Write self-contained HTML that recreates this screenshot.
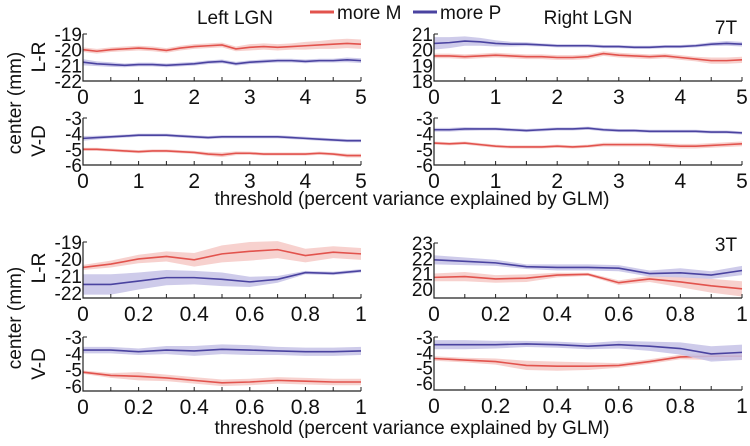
<!DOCTYPE html>
<html><head><meta charset="utf-8"><style>
html,body{margin:0;padding:0;background:#fff}
svg{display:block;font-family:"Liberation Sans",Arial,sans-serif}
</style></head><body>
<svg id="chart" width="750" height="446" viewBox="0 0 750 446" xmlns="http://www.w3.org/2000/svg"></svg>
<script>
// 7T x samples (0..5 step 0.25), 3T x samples (0..1 step 0.1)
const x7 = [0,0.25,0.5,0.75,1,1.25,1.5,1.75,2,2.25,2.5,2.75,3,3.25,3.5,3.75,4,4.25,4.5,4.75,5];
const x3 = [0,0.1,0.2,0.3,0.4,0.5,0.6,0.7,0.8,0.9,1];
// 7T Left L-R
const t7LlrM = [-20,-20.1,-20.0,-19.95,-19.9,-19.95,-20.05,-19.9,-19.8,-19.75,-19.7,-19.95,-19.85,-19.8,-19.85,-19.8,-19.75,-19.7,-19.65,-19.6,-19.65];
const t7LlrMerr = [0.15,0.15,0.15,0.15,0.15,0.15,0.15,0.15,0.15,0.15,0.15,0.15,0.2,0.2,0.2,0.2,0.25,0.25,0.3,0.3,0.3];
const t7LlrP = [-20.8,-20.9,-20.95,-21.0,-20.95,-20.95,-21.0,-20.95,-20.9,-20.8,-20.75,-20.9,-20.8,-20.75,-20.7,-20.7,-20.75,-20.7,-20.7,-20.65,-20.7];
const t7LlrPerr = [0.2,0.15,0.15,0.12,0.12,0.12,0.12,0.12,0.12,0.12,0.12,0.12,0.12,0.12,0.12,0.12,0.12,0.12,0.12,0.15,0.15];
// 7T Left V-D
const t7LvdM = [-5.0,-5.0,-5.05,-5.1,-5.15,-5.1,-5.1,-5.15,-5.2,-5.3,-5.35,-5.25,-5.25,-5.3,-5.3,-5.3,-5.3,-5.25,-5.3,-5.4,-5.4];
const t7LvdMerr = [0.1,0.1,0.1,0.1,0.1,0.1,0.1,0.1,0.1,0.12,0.15,0.12,0.1,0.1,0.1,0.1,0.1,0.1,0.1,0.12,0.12];
const t7LvdP = [-4.3,-4.25,-4.2,-4.15,-4.1,-4.1,-4.1,-4.15,-4.2,-4.25,-4.2,-4.2,-4.2,-4.2,-4.2,-4.25,-4.3,-4.35,-4.4,-4.45,-4.45];
const t7LvdPerr = [0.15,0.12,0.1,0.1,0.1,0.1,0.1,0.1,0.1,0.1,0.1,0.1,0.1,0.1,0.1,0.1,0.1,0.1,0.1,0.1,0.1];
// 7T Right L-R
const t7RlrM = [19.6,19.6,19.55,19.6,19.65,19.6,19.55,19.55,19.5,19.5,19.55,19.75,19.65,19.6,19.55,19.6,19.5,19.4,19.3,19.3,19.35];
const t7RlrMerr = [0.15,0.15,0.15,0.15,0.15,0.15,0.15,0.15,0.15,0.15,0.15,0.15,0.15,0.15,0.15,0.15,0.15,0.15,0.2,0.2,0.2];
const t7RlrP = [20.4,20.45,20.55,20.5,20.4,20.35,20.35,20.3,20.25,20.25,20.25,20.2,20.2,20.15,20.15,20.2,20.2,20.25,20.35,20.4,20.35];
const t7RlrPerr = [0.4,0.35,0.3,0.25,0.2,0.15,0.12,0.1,0.1,0.1,0.1,0.1,0.1,0.1,0.1,0.1,0.1,0.1,0.12,0.15,0.15];
// 7T Right V-D
const t7RvdM = [-4.6,-4.65,-4.6,-4.7,-4.8,-4.85,-4.85,-4.85,-4.8,-4.85,-4.8,-4.7,-4.7,-4.7,-4.7,-4.75,-4.8,-4.8,-4.75,-4.7,-4.65];
const t7RvdMerr = [0.1,0.1,0.1,0.1,0.1,0.1,0.1,0.1,0.1,0.1,0.1,0.12,0.12,0.12,0.12,0.15,0.15,0.15,0.15,0.15,0.15];
const t7RvdP = [-3.75,-3.75,-3.7,-3.7,-3.7,-3.75,-3.8,-3.75,-3.7,-3.7,-3.65,-3.75,-3.8,-3.8,-3.85,-3.85,-3.85,-3.85,-3.9,-3.9,-3.95];
const t7RvdPerr = [0.12,0.12,0.12,0.1,0.1,0.1,0.1,0.1,0.1,0.1,0.1,0.1,0.1,0.1,0.1,0.1,0.1,0.1,0.1,0.1,0.1];
// 3T Left L-R
const t3LlrM = [-20.5,-20.3,-20.0,-19.85,-20.05,-19.7,-19.55,-19.45,-19.8,-19.6,-19.7];
const t3LlrMerr = [0.15,0.2,0.25,0.3,0.4,0.5,0.55,0.5,0.4,0.35,0.35];
const t3LlrP = [-21.5,-21.5,-21.3,-21.1,-21.1,-21.2,-21.35,-21.2,-20.8,-20.85,-20.7];
const t3LlrPerr = [0.6,0.6,0.5,0.45,0.4,0.4,0.3,0.2,0.1,0.1,0.1];
// 3T Left V-D
const t3LvdM = [-5.15,-5.35,-5.4,-5.5,-5.65,-5.8,-5.75,-5.65,-5.7,-5.75,-5.75];
const t3LvdMerr = [0.1,0.15,0.25,0.2,0.2,0.2,0.2,0.2,0.2,0.2,0.2];
const t3LvdP = [-3.8,-3.8,-3.9,-3.8,-3.85,-3.75,-3.8,-3.85,-3.9,-3.9,-3.85];
const t3LvdPerr = [0.2,0.2,0.2,0.25,0.3,0.3,0.3,0.25,0.25,0.25,0.25];
// 3T Right L-R
const t3RlrM = [20.75,20.8,20.65,20.7,20.9,20.95,20.4,20.65,20.45,20.2,20.0];
const t3RlrMerr = [0.25,0.3,0.25,0.25,0.15,0.1,0.15,0.2,0.35,0.45,0.5];
const t3RlrP = [21.9,21.8,21.7,21.45,21.4,21.4,21.35,21.0,21.05,20.9,21.2];
const t3RlrPerr = [0.3,0.25,0.2,0.15,0.2,0.2,0.2,0.2,0.3,0.25,0.3];
// 3T Right V-D
const t3RvdM = [-4.4,-4.5,-4.6,-4.85,-4.9,-4.9,-4.85,-4.6,-4.3,-4.25,-4.25];
const t3RvdMerr = [0.15,0.15,0.2,0.3,0.3,0.25,0.15,0.15,0.15,0.25,0.25];
const t3RvdP = [-3.5,-3.5,-3.5,-3.45,-3.5,-3.6,-3.5,-3.6,-3.75,-4.1,-4.0];
const t3RvdPerr = [0.3,0.3,0.25,0.2,0.2,0.2,0.25,0.3,0.4,0.5,0.5];
// tick labels
const ticks7 = [0,1,2,3,4,5];
const ticks3 = [0,0.2,0.4,0.6,0.8,1];
const ticksLR7L = [-19,-20,-21,-22];
const ticksLR7R = [21,20,19,18];
const ticksVD = [-3,-4,-5,-6];
const ticksLR3L = [-19,-20,-21,-22];
const ticksLR3R = [23,22,21,20];

const NS = "http://www.w3.org/2000/svg";
const svg = document.getElementById('chart');
const RED = "#e2534d", REDB = "#f6c9c5", BLUE = "#4a43a0", BLUEB = "#c5c2e6";
function mk(tag, attrs, parent) {
  const e = document.createElementNS(NS, tag);
  for (const k in attrs) e.setAttribute(k, attrs[k]);
  (parent || svg).appendChild(e);
  return e;
}
function txt(s, x, y, opts, parent) {
  const t = mk('text', Object.assign({x: x, y: y, 'font-size': 18, fill: '#111'}, opts || {}), parent);
  t.textContent = s;
  return t;
}
function panel(name, p) {
  const g = mk('g', {});
  
  
  const sx = v => p.x0 + (v - p.xmin) / (p.xmax - p.xmin) * (p.x1 - p.x0);
  const sy = v => p.yb - (v - p.ymin) / (p.ymax - p.ymin) * (p.yb - p.yt);
  const series = [[p.M, p.Merr, RED, REDB, 'more-m'], [p.P, p.Perr, BLUE, BLUEB, 'more-p']];
  series.forEach(s => {
    const up = p.xs.map((x, i) => sx(x) + ',' + sy(s[0][i] + s[1][i]));
    const dn = p.xs.map((x, i) => sx(x) + ',' + sy(s[0][i] - s[1][i])).reverse();
    const band = mk('polygon', {points: up.concat(dn).join(' '), fill: s[3], 'fill-opacity': 0.85}, g);
    
    
    const line = mk('polyline', {points: p.xs.map((x, i) => sx(x) + ',' + sy(s[0][i])).join(' '), fill: 'none', stroke: s[2], 'stroke-width': 1.6}, g);
    
    
  });
  const ax = mk('path', {d: `M${p.x0},${p.yt} L${p.x0},${p.yb} L${p.x1},${p.yb}`, fill: 'none', stroke: '#222', 'stroke-width': 1.2}, g);
  
  
  mk('line', {x1: p.x0, y1: p.yt, x2: p.x0 + 4, y2: p.yt, stroke: '#222', 'stroke-width': 1}, g);
  for (let v = p.xmin; v <= p.xmax + 1e-9; v += p.minor) {
    mk('line', {x1: sx(v), y1: p.yb, x2: sx(v), y2: p.yb - 4, stroke: '#222', 'stroke-width': 1}, g);
  }
  p.xt.forEach(v => {
    const t = txt(String(v), sx(v), p.yb + 23, {'text-anchor': 'middle', 'font-size': 21}, g);
    
    
  });
  p.yticks.forEach(v => {
    const t = txt(String(v), p.x0 - 1, sy(v) + 7, {'text-anchor': 'end', 'font-size': 19}, g);
    
    
  });
}
const L = {x0: 83, x1: 361}, R = {x0: 434, x1: 742};
panel('panel-7t-left-lr', {xs: x7, xmin: 0, xmax: 5, minor: 0.5, xt: ticks7, x0: L.x0, x1: L.x1, yt: 34, yb: 81, ymin: -22, ymax: -19, yticks: ticksLR7L, M: t7LlrM, Merr: t7LlrMerr, P: t7LlrP, Perr: t7LlrPerr});
panel('panel-7t-right-lr', {xs: x7, xmin: 0, xmax: 5, minor: 0.5, xt: ticks7, x0: R.x0, x1: R.x1, yt: 34, yb: 81, ymin: 18, ymax: 21, yticks: ticksLR7R, M: t7RlrM, Merr: t7RlrMerr, P: t7RlrP, Perr: t7RlrPerr});
panel('panel-7t-left-vd', {xs: x7, xmin: 0, xmax: 5, minor: 0.5, xt: ticks7, x0: L.x0, x1: L.x1, yt: 118, yb: 165, ymin: -6, ymax: -3, yticks: ticksVD, M: t7LvdM, Merr: t7LvdMerr, P: t7LvdP, Perr: t7LvdPerr});
panel('panel-7t-right-vd', {xs: x7, xmin: 0, xmax: 5, minor: 0.5, xt: ticks7, x0: R.x0, x1: R.x1, yt: 118, yb: 165, ymin: -6, ymax: -3, yticks: ticksVD, M: t7RvdM, Merr: t7RvdMerr, P: t7RvdP, Perr: t7RvdPerr});
panel('panel-3t-left-lr', {xs: x3, xmin: 0, xmax: 1, minor: 0.1, xt: ticks3, x0: L.x0, x1: L.x1, yt: 242, yb: 298, ymin: -22.3, ymax: -19, yticks: ticksLR3L, M: t3LlrM, Merr: t3LlrMerr, P: t3LlrP, Perr: t3LlrPerr});
panel('panel-3t-right-lr', {xs: x3, xmin: 0, xmax: 1, minor: 0.1, xt: ticks3, x0: R.x0, x1: R.x1, yt: 243, yb: 298, ymin: 19.4, ymax: 23, yticks: ticksLR3R, M: t3RlrM, Merr: t3RlrMerr, P: t3RlrP, Perr: t3RlrPerr});
panel('panel-3t-left-vd', {xs: x3, xmin: 0, xmax: 1, minor: 0.1, xt: ticks3, x0: L.x0, x1: L.x1, yt: 337, yb: 391, ymin: -6.3, ymax: -3, yticks: ticksVD, M: t3LvdM, Merr: t3LvdMerr, P: t3LvdP, Perr: t3LvdPerr});
panel('panel-3t-right-vd', {xs: x3, xmin: 0, xmax: 1, minor: 0.1, xt: ticks3, x0: R.x0, x1: R.x1, yt: 337, yb: 390, ymin: -6.45, ymax: -3, yticks: ticksVD, M: t3RvdM, Merr: t3RvdMerr, P: t3RvdP, Perr: t3RvdPerr});

function label(name, s, x, y, opts) {
  const t = txt(s, x, y, opts);
  
  
}
label('title-left-lgn', 'Left LGN', 235, 24, {'text-anchor': 'middle', 'font-size': 19});
label('title-right-lgn', 'Right LGN', 588, 24, {'text-anchor': 'middle', 'font-size': 19});
label('label-7t', '7T', 726, 34, {'text-anchor': 'middle', 'font-size': 19});
label('label-3t', '3T', 726, 251, {'text-anchor': 'middle', 'font-size': 19});
label('x-axis-title-7t', 'threshold (percent variance explained by GLM)', 412, 205, {'text-anchor': 'middle', 'font-size': 19});
label('x-axis-title-3t', 'threshold (percent variance explained by GLM)', 412, 434, {'text-anchor': 'middle', 'font-size': 19});
label('y-axis-title-7t', 'center (mm)', 0, 0, {'text-anchor': 'middle', 'font-size': 19, transform: 'translate(21,103) rotate(-90)'});
label('y-axis-title-3t', 'center (mm)', 0, 0, {'text-anchor': 'middle', 'font-size': 19, transform: 'translate(21,318) rotate(-90)'});
label('row-label-lr-7t', 'L-R', 0, 0, {'text-anchor': 'middle', 'font-size': 19, transform: 'translate(45,57) rotate(-90)'});
label('row-label-vd-7t', 'V-D', 0, 0, {'text-anchor': 'middle', 'font-size': 19, transform: 'translate(45,141) rotate(-90)'});
label('row-label-lr-3t', 'L-R', 0, 0, {'text-anchor': 'middle', 'font-size': 19, transform: 'translate(45,268) rotate(-90)'});
label('row-label-vd-3t', 'V-D', 0, 0, {'text-anchor': 'middle', 'font-size': 19, transform: 'translate(45,364) rotate(-90)'});
const lg = mk('g', {});


const l1 = mk('line', {x1: 310, y1: 12, x2: 334, y2: 12, stroke: RED, 'stroke-width': 3}, lg);


const t1 = txt('more M', 337, 19, {'font-size': 19}, lg);


const l2 = mk('line', {x1: 413, y1: 12, x2: 437, y2: 12, stroke: BLUE, 'stroke-width': 3}, lg);


const t2 = txt('more P', 440, 19, {'font-size': 19}, lg);


</script>
</body></html>
